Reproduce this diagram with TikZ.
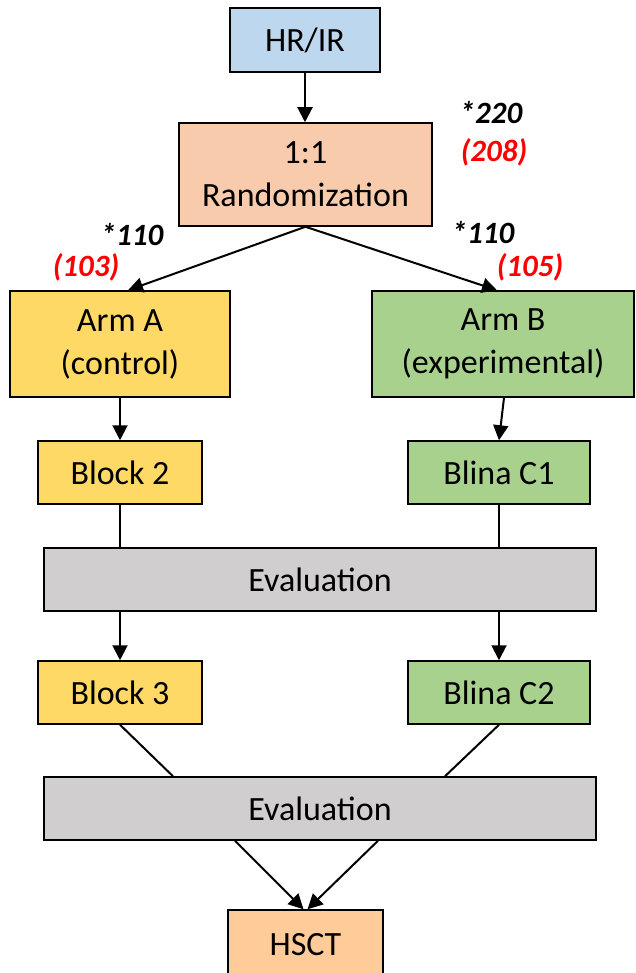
\documentclass[tikz,border=0pt]{standalone}
\usepackage{fontspec}
\setmainfont{Carlito}
\usetikzlibrary{arrows.meta,calc}
\definecolor{hrblue}{HTML}{BDD7EE}
\definecolor{randor}{HTML}{F8CBAD}
\definecolor{armyel}{HTML}{FFD966}
\definecolor{armgrn}{HTML}{A9D18E}
\definecolor{evgray}{HTML}{D0CECE}
\definecolor{hsctor}{HTML}{FFCC99}
\definecolor{numred}{HTML}{FF0000}
\begin{document}
\begin{tikzpicture}[x=1pt,y=-1pt,
  box/.style={draw=black,line width=1.5pt,inner sep=0pt,align=center,font=\fontsize{34}{43}\selectfont},
  arr/.style={line width=2pt,-{Triangle[length=15pt,width=15pt]}},
  ln/.style={line width=2pt},
  num/.style={font=\fontsize{31}{36}\selectfont\bfseries\itshape,inner sep=0pt}]
\clip (0,0) rectangle (635,973);
% boxes
\node[box,fill=hrblue,minimum width=150pt,minimum height=64pt] (hr) at (305,40) {HR/IR};
\node[box,fill=randor,minimum width=253pt,minimum height=103pt] (rand) at (305.5,174.5) {1:1\\Randomization};
\node[box,fill=armyel,minimum width=220pt,minimum height=106pt] (armA) at (120,344) {Arm A\\(control)};
\node[box,fill=armgrn,minimum width=262pt,minimum height=106pt] (armB) at (503,344) {Arm B\\(experimental)};
\node[box,fill=armyel,minimum width=164pt,minimum height=63pt] (b2) at (120,472.5) {Block 2};
\node[box,fill=armgrn,minimum width=182pt,minimum height=63pt] (c1) at (499,472.5) {Blina C1};
\node[box,fill=evgray,minimum width=552pt,minimum height=63pt] (ev1) at (320,579.5) {Evaluation};
\node[box,fill=armyel,minimum width=164pt,minimum height=63pt] (b3) at (120,692.5) {Block 3};
\node[box,fill=armgrn,minimum width=182pt,minimum height=63pt] (c2) at (499,692.5) {Blina C2};
\node[box,fill=evgray,minimum width=552pt,minimum height=63pt] (ev2) at (320,808.5) {Evaluation};
\node[box,fill=hsctor,minimum width=155pt,minimum height=70pt] (hsct) at (305.5,945) {HSCT};
% numbers
\node[num] (n220) at (491,113) {*220};
\node[num,text=numred] (n208) at (494,152) {(208)};
\node[num] (n110a) at (132,235) {*110};
\node[num,text=numred] (n103) at (86,267) {(103)};
\node[num] (n110b) at (483,233) {*110};
\node[num,text=numred] (n105) at (530,267) {(105)};
% connectors
\draw[arr] (hr.south) -- (hr.south |- rand.north);
\draw[arr] (rand.south) -- ($(armA.north)+(8,0)$);
\draw[arr] (rand.south) -- ($(armB.north)+(-6,0)$);
\draw[arr] (armA.south) -- (b2.north);
\draw[arr] ($(armB.south)+(1,0)$) -- (c1.north);
\draw[ln] (b2.south) -- (b2.south |- ev1.north);
\draw[ln] (c1.south) -- (c1.south |- ev1.north);
\draw[arr] (b3.north |- ev1.south) -- (b3.north);
\draw[arr] (c2.north |- ev1.south) -- (c2.north);
\draw[ln] (b3.south) -- ($(ev2.north)+(-147,0)$);
\draw[ln] (c2.south) -- ($(ev2.north)+(125,0)$);
\draw[arr] ($(ev2.south)+(-85,0)$) -- ($(hsct.north)+(-2,0)$);
\draw[arr] ($(ev2.south)+(58,0)$) -- ($(hsct.north)+(2,0)$);
\end{tikzpicture}
\end{document}
